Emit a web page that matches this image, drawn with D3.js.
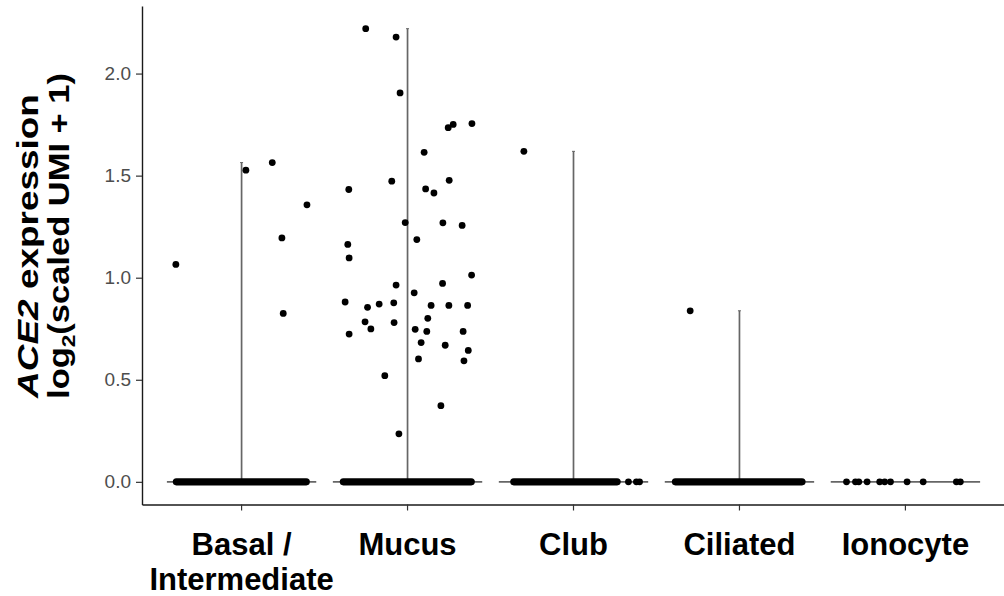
<!DOCTYPE html>
<html><head><meta charset="utf-8">
<script src="https://cdn.jsdelivr.net/npm/d3@7"></script>
<style>html,body{margin:0;padding:0;background:#fff}svg{display:block}</style>
</head><body>
<svg id="chart" width="1004" height="596"></svg>
<script>
// ---------- data ----------
const categories = ["Basal / Intermediate", "Mucus", "Club", "Ciliated", "Ionocyte"];
const categoryLabelLines = [["Basal /", "Intermediate"], ["Mucus"], ["Club"], ["Ciliated"], ["Ionocyte"]];
const yTicks = [0, 0.5, 1.0, 1.5, 2.0];

// non-zero expression values (log2 scaled UMI + 1) and their jitter (fraction of category width)
const basalValues  = [1.564, 1.527, 1.357, 1.195, 1.065, 0.825];
const basalJitter  = [0.185, 0.026, 0.394, 0.243, -0.396, 0.251];

const mucusValues = [2.220, 2.179, 1.905, 1.735, 1.751, 1.755, 1.614, 1.473, 1.477, 1.432, 1.435, 1.415,
  1.270, 1.269, 1.256, 1.187, 1.163, 1.097, 1.013, 0.964, 0.972, 0.926, 0.881, 0.855, 0.871, 0.877,
  0.864, 0.864, 0.864, 0.801, 0.784, 0.749, 0.780, 0.747, 0.737, 0.737, 0.724, 0.682, 0.669, 0.644,
  0.602, 0.593, 0.520, 0.373, 0.235];
const mucusJitter = [-0.252, -0.069, -0.045, 0.245, 0.275, 0.388, 0.100, -0.095, 0.251, -0.354, 0.109, 0.159,
  -0.014, 0.213, 0.329, 0.056, -0.360, -0.352, 0.386, -0.069, 0.211, 0.040, -0.376, -0.241, -0.171, -0.083,
  0.142, 0.249, 0.362, 0.122, -0.256, -0.221, -0.081, 0.046, 0.116, 0.335, -0.352, 0.082, 0.227, 0.366,
  0.066, 0.340, -0.137, 0.201, -0.052];

const clubValues = [1.619];
const clubJitter = [-0.299];
const ciliatedValues = [0.838];
const ciliatedJitter = [-0.297];
const ionocyteValues = [];
const ionocyteJitter = [];

// cells with zero expression: dense jitter span (fraction of category width) and isolated cells
const zeroSpan = [[-0.393, 0.390], [-0.387, 0.384], [-0.360, 0.263], [-0.386, 0.377], null];
const zeroIsolatedJitter = [[], [], [0.331, 0.379, 0.398], [],
  [-0.355, -0.301, -0.281, -0.231, -0.155, -0.125, -0.090, 0.010, 0.107, 0.307, 0.331]];

const seriesValues = [basalValues, mucusValues, clubValues, ciliatedValues, ionocyteValues];
const seriesJitter = [basalJitter, mucusJitter, clubJitter, ciliatedJitter, ionocyteJitter];

// ---------- layout ----------
const FONT = "'Liberation Sans', Arial, Helvetica, sans-serif";
const svg = d3.select("#chart");

const x = d3.scaleBand().domain(categories).range([142, 1005]).paddingInner(0).paddingOuter(0.1);
const step = x.step();
const cx = c => x(c) + x.bandwidth() / 2;

const yMax = d3.max(seriesValues.flat());
const pad = 0.05 * yMax;
const y = d3.scaleLinear().domain([-pad, yMax + pad]).range([504.5, 6]);

// ---------- violins (degenerate: spike at 0 + thin tail to max) ----------
const violinW = 0.9;
const gV = svg.append("g");
categories.forEach((c, i) => {
  gV.append("line")
    .attr("x1", cx(c) - violinW / 2 * step).attr("x2", cx(c) + violinW / 2 * step)
    .attr("y1", y(0)).attr("y2", y(0))
    .attr("stroke", "#666").attr("stroke-width", 1.6);
  const m = d3.max(seriesValues[i]);
  if (m !== undefined) {
    gV.append("line")
      .attr("x1", cx(c)).attr("x2", cx(c))
      .attr("y1", y(0)).attr("y2", y(m))
      .attr("stroke", "#666").attr("stroke-width", 1.7);
    gV.append("line")
      .attr("x1", cx(c) - 1.5).attr("x2", cx(c) + 1.5)
      .attr("y1", y(m)).attr("y2", y(m))
      .attr("stroke", "#666").attr("stroke-width", 1);
  }
});

// ---------- points ----------
const R = 3.4;
const gP = svg.append("g");
categories.forEach((c, i) => {
  const span = zeroSpan[i];
  if (span) {
    gP.append("line")
      .attr("x1", cx(c) + span[0] * step).attr("x2", cx(c) + span[1] * step)
      .attr("y1", y(0)).attr("y2", y(0))
      .attr("stroke", "#000").attr("stroke-width", R * 2.1).attr("stroke-linecap", "round");
  }
  gP.selectAll(null).data(zeroIsolatedJitter[i]).enter().append("circle")
    .attr("cx", j => cx(c) + j * step).attr("cy", y(0)).attr("r", R).attr("fill", "#000");
  gP.selectAll(null).data(seriesValues[i].map((v, k) => ({v, j: seriesJitter[i][k]}))).enter()
    .append("circle")
    .attr("cx", d => cx(c) + d.j * step).attr("cy", d => y(d.v)).attr("r", R).attr("fill", "#000");
});

// ---------- axes ----------
const yAxis = svg.append("g").attr("transform", `translate(${x.range()[0]},0)`)
  .call(d3.axisLeft(y).tickValues(yTicks).tickFormat(d3.format(".1f")).tickSize(6).tickSizeOuter(0).tickPadding(5));
yAxis.select(".domain").attr("stroke", "#1a1a1a").attr("stroke-width", 1.4);
yAxis.selectAll(".tick line").attr("stroke", "#333").attr("stroke-width", 1.2);
yAxis.selectAll(".tick text").attr("font-family", FONT).attr("font-size", 19).attr("fill", "#4d4d4d");

const xAxis = svg.append("g").attr("transform", `translate(0,${y.range()[0]})`)
  .call(d3.axisBottom(x).tickSize(6).tickSizeOuter(0).tickFormat(""));
xAxis.select(".domain").attr("stroke", "#1a1a1a").attr("stroke-width", 1.4);
xAxis.selectAll(".tick line").attr("stroke", "#333").attr("stroke-width", 1.2);

// x category labels
const gXL = svg.append("g");
categories.forEach((c, i) => {
  const t = gXL.append("text").attr("text-anchor", "middle")
    .attr("font-family", FONT).attr("font-weight", "bold").attr("font-size", 31).attr("fill", "#000");
  categoryLabelLines[i].forEach((line, k) => {
    t.append("tspan").attr("x", cx(c)).attr("y", 555 + k * 35).text(line);
  });
});

// y title (two lines, rotated)
function yTitle(baseX, centerY, targetLen, build) {
  const g = svg.append("g");
  const t = g.append("text").attr("text-anchor", "middle")
    .attr("font-family", FONT).attr("font-weight", "bold").attr("font-size", 29).attr("fill", "#000");
  build(t);
  const len = t.node().getComputedTextLength();
  const s = targetLen / len;
  g.attr("transform", `translate(${baseX},${centerY}) rotate(-90) scale(${s},1)`);
}
yTitle(38, 246, 304, t => {
  t.append("tspan").attr("font-style", "italic").text("ACE2");
  t.append("tspan").text(" expression");
});
yTitle(68.5, 236, 326, t => {
  t.append("tspan").text("log");
  t.append("tspan").attr("font-size", 19).attr("dy", 6).text("2");
  t.append("tspan").attr("dy", -6).text("(scaled UMI + 1)");
});
</script>
</body></html>
